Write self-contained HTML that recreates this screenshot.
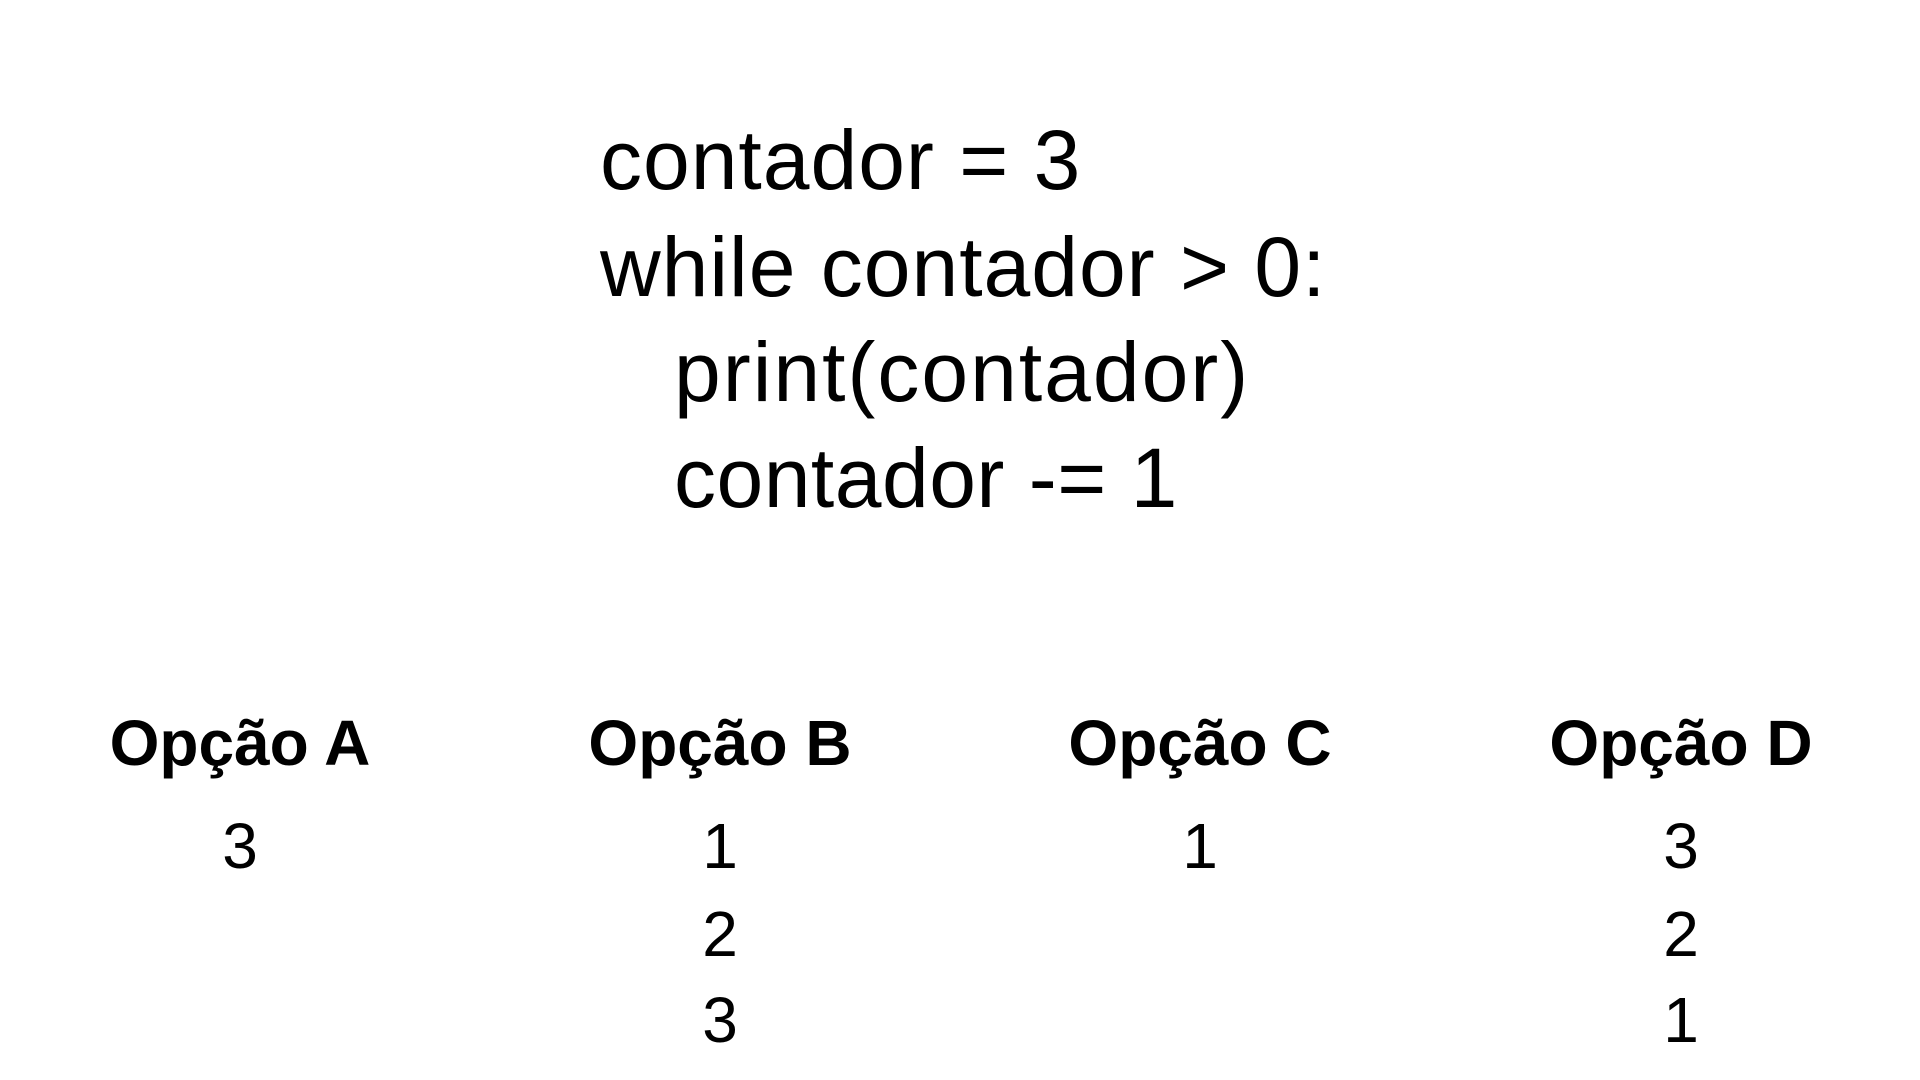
<!DOCTYPE html>
<html><head><meta charset="utf-8"><style>
body{margin:0;width:1920px;height:1080px;background:#fff;position:relative;overflow:hidden;font-family:"Liberation Sans",sans-serif;color:#000}
.c{position:absolute;font-size:84px;line-height:1;transform:translateY(-50%);white-space:pre;letter-spacing:1px}
.h{position:absolute;font-size:64px;font-weight:bold;transform:translate(-50%,-50%);white-space:nowrap;line-height:1}
.n{position:absolute;font-size:64px;transform:translate(-50%,-50%);line-height:1}
</style></head><body>
<div class="c" style="left:600px;top:160px">contador = 3</div>
<div class="c" style="left:600px;top:267px">while contador &gt; 0:</div>
<div class="c" style="left:674px;top:372px;letter-spacing:2px">print(contador)</div>
<div class="c" style="left:674px;top:478px;letter-spacing:0.5px">contador -= 1</div>

<div class="h" style="left:240px;top:743px">Opção A</div>
<div class="h" style="left:720px;top:743px">Opção B</div>
<div class="h" style="left:1200px;top:743px">Opção C</div>
<div class="h" style="left:1681px;top:743px">Opção D</div>

<div class="n" style="left:240px;top:846px">3</div>
<div class="n" style="left:720px;top:846px">1</div>
<div class="n" style="left:720px;top:934px">2</div>
<div class="n" style="left:720px;top:1020px">3</div>
<div class="n" style="left:1200px;top:846px">1</div>
<div class="n" style="left:1681px;top:846px">3</div>
<div class="n" style="left:1681px;top:934px">2</div>
<div class="n" style="left:1681px;top:1020px">1</div>
</body></html>
